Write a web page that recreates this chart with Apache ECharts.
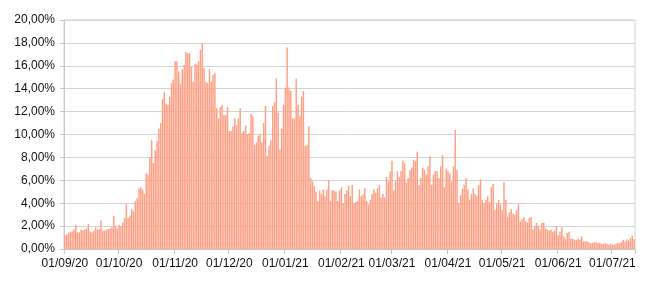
<!DOCTYPE html>
<html>
<head>
<meta charset="utf-8">
<script src="https://cdn.jsdelivr.net/npm/echarts@6/dist/echarts.min.js"></script>
<style>
html,body{margin:0;padding:0;background:#fff;}
#chart{width:650px;height:287px;}
</style>
</head>
<body>
<div id="chart"></div>
<script>
// Daily values (%), 01/09/2020 .. 13/07/2021
var startDate = [2020, 8, 1]; // year, month index (0-based), day
var sep20 = [1.2,1.25,1.4,1.5,1.5,1.7,2.1,1.45,1.45,1.7,1.6,1.7,1.8,2.2,1.5,1.45,1.6,1.9,1.7,1.75,2.5,1.6,1.6,1.7,1.75,1.8,1.9,2.9,2.0,1.8];
var oct20 = [2.1,2.0,2.3,2.7,3.9,2.7,2.9,3.5,3.3,4.2,4.4,5.3,5.4,5.2,4.8,6.6,6.5,8.0,9.5,7.5,8.6,9.4,10.5,11.0,13.1,13.7,12.7,12.6,13.3,14.5,14.8];
var nov20 = [16.4,16.4,15.5,14.4,15.7,16.1,17.2,17.1,17.1,15.9,14.6,16.2,16.1,16.4,17.4,18.0,15.8,14.6,14.5,15.7,14.6,15.2,15.4,12.3,11.4,12.4,12.6,11.7,11.7,12.4];
var dec20 = [10.3,10.3,10.7,11.4,10.8,11.4,12.3,10.1,10.3,10.8,10.0,10.1,11.8,11.6,9.1,9.3,9.9,10.0,9.3,11.0,12.5,8.1,9.0,9.5,12.5,12.8,14.9,11.9,8.7,10.5,12.6];
var jan21 = [14.1,17.6,14.1,13.8,11.4,11.4,14.9,12.6,11.6,13.3,13.8,9.0,9.1,10.7,6.2,5.9,5.5,5.0,4.2,5.1,4.8,5.2,4.6,5.2,6.0,4.2,5.1,5.1,5.0,4.2,5.1];
var feb21 = [5.4,4.0,4.8,5.1,5.5,4.6,5.6,4.0,4.1,4.2,5.2,4.6,4.8,5.3,4.2,3.9,4.3,4.8,5.2,4.9,5.3,5.6,4.5,4.8,4.5,6.3,5.9,6.8];
var mar21 = [7.7,5.1,5.9,6.8,6.3,6.8,7.7,7.5,5.8,6.2,6.9,7.1,7.8,7.7,8.5,5.6,6.2,7.1,6.9,6.5,7.2,8.1,5.6,6.5,6.8,6.8,6.2,7.2,8.2,5.4,7.0];
var apr21 = [6.8,6.6,5.9,7.2,10.4,6.9,4.0,4.7,5.3,5.6,6.2,5.2,4.3,4.8,5.3,4.8,4.6,5.6,6.1,4.3,4.0,4.3,4.6,4.1,5.4,5.7,3.4,4.0,4.3,3.9];
var may21 = [3.4,5.8,4.3,2.8,3.2,3.5,3.1,3.0,3.4,3.9,2.4,2.6,2.8,2.4,2.3,2.7,2.8,1.7,2.0,2.3,2.0,1.7,2.3,2.3,1.8,1.7,1.6,1.7,1.5,1.6,2.0];
var jun21 = [1.2,1.5,1.9,1.1,0.9,1.4,1.5,0.9,0.9,0.8,0.8,0.9,0.8,1.1,0.65,0.65,0.7,0.6,0.5,0.55,0.6,0.6,0.5,0.55,0.45,0.45,0.5,0.45,0.35,0.45];
var jul21 = [0.4,0.35,0.45,0.55,0.5,0.6,0.8,0.65,0.85,0.75,0.95,1.15,0.85];

var values = [].concat(sep20, oct20, nov20, dec20, jan21, feb21, mar21, apr21, may21, jun21, jul21);

function pad(n){ return (n < 10 ? '0' : '') + n; }
var categories = [];
for (var i = 0; i < values.length; i++) {
  var d = new Date(Date.UTC(startDate[0], startDate[1], startDate[2] + i));
  categories.push(pad(d.getUTCDate()) + '/' + pad(d.getUTCMonth() + 1) + '/' + String(d.getUTCFullYear()).slice(2));
}
function isMonthStart(idx){ return categories[idx].slice(0, 2) === '01'; }

var chart = echarts.init(document.getElementById('chart'), null, {renderer: 'canvas'});
chart.setOption({
  animation: false,
  backgroundColor: '#ffffff',
  textStyle: {fontFamily: 'Liberation Sans, Arial, sans-serif'},
  grid: {left: 64, right: 15, top: 20, bottom: 38, show: true, borderColor: '#d0d0d0', borderWidth: 1, containLabel: false},
  xAxis: {
    type: 'category',
    data: categories,
    boundaryGap: true,
    axisLine: {show: true, lineStyle: {color: '#c8c8c8', width: 1}},
    axisTick: {show: true, length: 5, interval: function(idx){ return isMonthStart(idx); }, lineStyle: {color: '#c8c8c8'}},
    axisLabel: {interval: function(idx){ return isMonthStart(idx); }, color: '#111', fontSize: 12, margin: 9, fontFamily: 'Liberation Sans, Arial, sans-serif'},
    splitLine: {show: false}
  },
  yAxis: {
    type: 'value',
    min: 0, max: 20, interval: 2,
    axisLine: {show: true, lineStyle: {color: '#c8c8c8', width: 1}},
    axisTick: {show: true, length: 4, lineStyle: {color: '#c8c8c8'}},
    axisLabel: {color: '#111', fontSize: 12, margin: 9, fontFamily: 'Liberation Sans, Arial, sans-serif',
      formatter: function(v){ return v.toFixed(2).replace('.', ',') + '%'; }},
    splitLine: {show: true, lineStyle: {color: '#d4d4d4', width: 1}}
  },
  series: [{
    type: 'bar',
    data: values,
    barCategoryGap: '18%',
    itemStyle: {color: '#ffa085'},
    silent: true
  }]
});
</script>
</body>
</html>
